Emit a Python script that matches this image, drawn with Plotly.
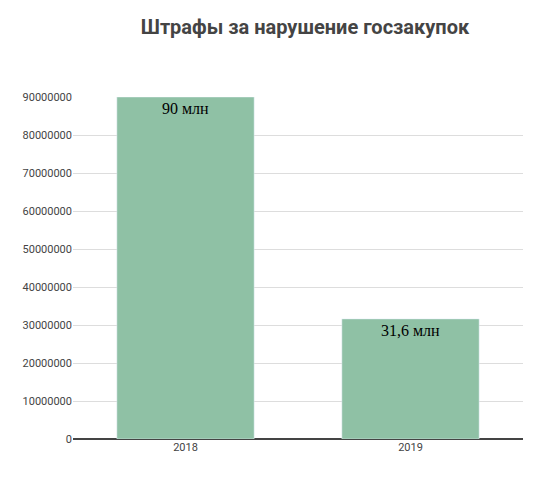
import plotly.graph_objects as go

years = ["2018", "2019"]
fines = [90000000, 31600000]
labels = ["90 млн", "31,6 млн"]
ticks = [0, 10000000, 20000000, 30000000, 40000000, 50000000, 60000000, 70000000, 80000000, 90000000]

fig = go.Figure(go.Bar(
    x=years, y=fines, text=labels, textposition="inside", insidetextanchor="end",
    textfont=dict(family="Liberation Serif", size=16, color="black"),
    marker_color="#8fc1a5", width=0.61,
))
fig.update_layout(
    width=550, height=499, plot_bgcolor="white", paper_bgcolor="white",
    margin=dict(l=65, r=35, t=89, b=68),
    title=dict(text="<b>Штрафы за нарушение госзакупок</b>", x=0.54, y=0.975,
               font=dict(family="Roboto", size=20, color="#444")),
    xaxis=dict(tickfont=dict(family="Roboto", size=11, color="#444"), ticks=""),
    yaxis=dict(range=[0, 90000000], tickvals=ticks, tickformat="d",
               tickfont=dict(family="Roboto", size=11, color="#444"),
               gridcolor="#dddddd", zeroline=True, zerolinecolor="#444", zerolinewidth=1.5),
    showlegend=False,
)
fig.write_html("out.html")
